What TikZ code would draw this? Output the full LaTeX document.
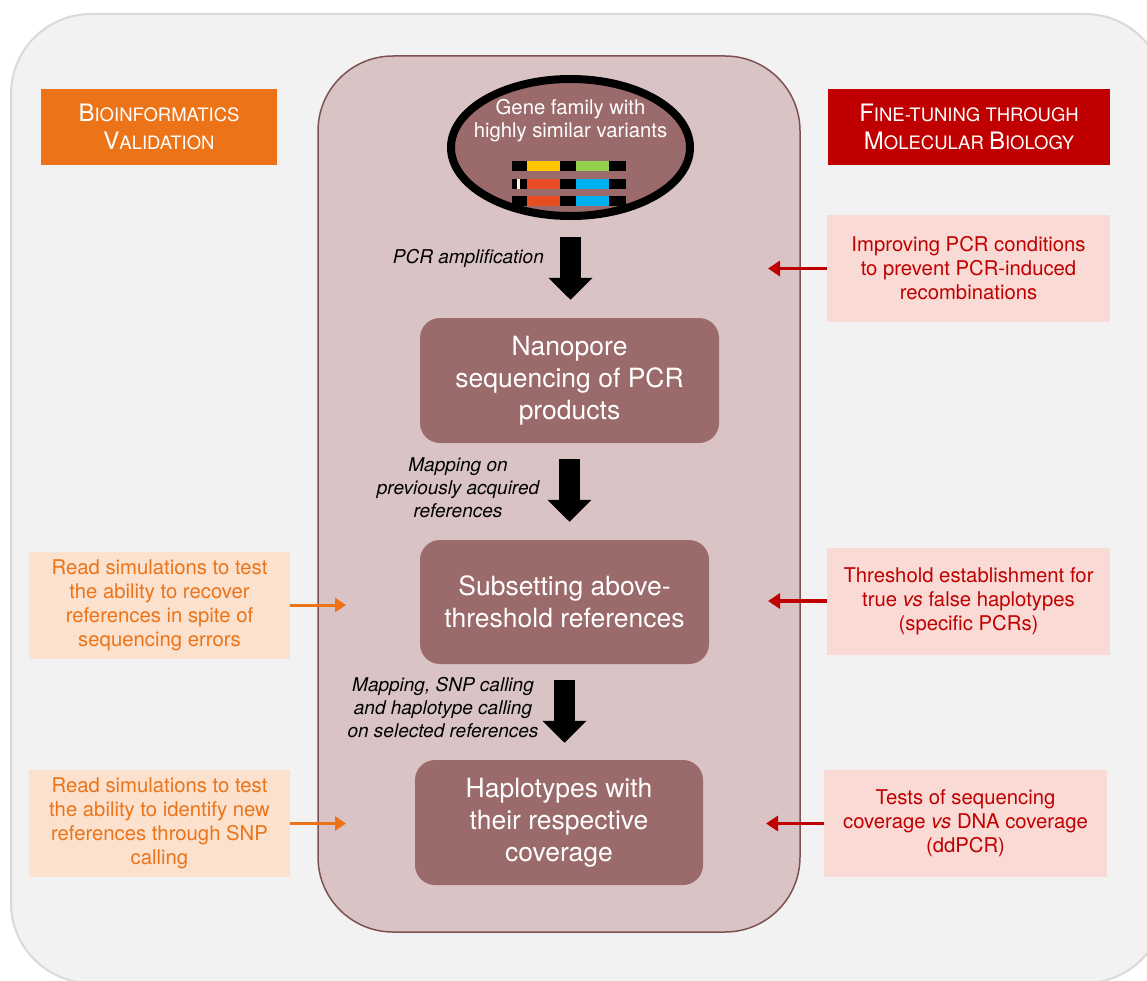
\documentclass[tikz,border=0pt]{standalone}
\usepackage{fontspec}
\setmainfont{TeX Gyre Heros}
\usetikzlibrary{arrows.meta,shapes.geometric}

\definecolor{outerFill}{HTML}{F2F2F2}
\definecolor{outerLine}{HTML}{D9D9D9}
\definecolor{columnFill}{HTML}{D9C3C4}
\definecolor{columnLine}{HTML}{7F5252}
\definecolor{stepFill}{HTML}{9B6A6A}
\definecolor{bioOrange}{HTML}{EC7317}
\definecolor{molRed}{HTML}{C00000}
\definecolor{peachFill}{HTML}{FBE1CE}
\definecolor{pinkFill}{HTML}{FADAD5}
\definecolor{barYellow}{HTML}{FFC800}
\definecolor{barGreen}{HTML}{92D050}
\definecolor{barRed}{HTML}{E84C22}
\definecolor{barBlue}{HTML}{00B0F0}
\definecolor{barCream}{HTML}{FFF2CC}

\newcommand\capsc[2]{{\fontsize{24}{28}\selectfont #1}{\fontsize{18.5}{28}\selectfont #2}}

\tikzset{
  stepbox/.style={fill=stepFill, text=white, rounded corners=20pt, align=center,
    font=\fontsize{26.5}{32}\selectfont, inner sep=0pt},
  headbox/.style={text=white, align=center, inner sep=0pt, minimum height=76pt,
    font=\fontsize{18.5}{28}\selectfont},
  molbox/.style={fill=pinkFill, text=molRed, align=center, inner sep=0pt,
    minimum width=283pt, minimum height=107pt, font=\fontsize{20.3}{24}\selectfont},
  biobox/.style={fill=peachFill, text=bioOrange, align=center, inner sep=0pt,
    minimum width=261pt, minimum height=107pt, font=\fontsize{20.3}{24}\selectfont},
  steplabel/.style={align=center, inner sep=0pt, font=\itshape\fontsize{19}{23}\selectfont},
  blockarr/.style={black, line width=21pt, -{Triangle[length=22pt,width=43pt]}},
  redarr/.style={molRed, line width=3.5pt, -{Triangle[length=12pt,width=15pt]}},
  orgarr/.style={bioOrange, line width=3pt, -{Triangle[length=11pt,width=14pt]}}
}

\begin{document}
\begin{tikzpicture}[x=1pt,y=-1pt]
  \useasboundingbox (0,0) rectangle (1147,981);
  \begin{scope}
    \clip (0,0) rectangle (1147,981);
    \draw[outerLine, fill=outerFill, line width=2pt, rounded corners=80pt]
      (11,14) rectangle (1165,983);
  \end{scope}
  \draw[columnLine, fill=columnFill, line width=1.5pt, rounded corners=75pt]
    (318,56) rectangle (800,932);

  % headers
  \node[headbox, fill=bioOrange, minimum width=236pt] (bioHead) at (159,127)
    {\capsc{B}{IOINFORMATICS}\\\capsc{V}{ALIDATION}};
  \node[headbox, fill=molRed, minimum width=282pt] (molHead) at (969,127)
    {\capsc{F}{INE-TUNING THROUGH}\\\capsc{M}{OLECULAR} \capsc{B}{IOLOGY}};

  % gene family
  \node[ellipse, draw=black, line width=8pt, fill=stepFill, minimum width=239pt,
    minimum height=137pt] (gene) at (570.5,147.5) {};
  \node[text=white, align=center, inner sep=0pt, font=\fontsize{20.3}{23}\selectfont]
    (geneText) at (570.5,121) {Gene family with\\highly similar variants};
  \foreach \yy/\ca/\cb in {166/barYellow/barGreen,184/barRed/barBlue,201/barRed/barBlue}
  {
    \fill[black] (512,\yy-5) rectangle (626,\yy+5);
    \fill[\ca] (527,\yy-5) rectangle (560,\yy+5);
    \fill[\cb] (576,\yy-5) rectangle (609,\yy+5);
  }
  \fill[barCream] (517,179) rectangle (520,189);

  % main steps
  \node[stepbox, minimum width=299pt, minimum height=125pt] (nanopore) at (569.5,380.5)
    {Nanopore\\sequencing of PCR\\products};
  \node[stepbox, minimum width=289pt, minimum height=124pt] (subset) at (564.5,602)
    {Subsetting above-\\threshold references};
  \node[stepbox, minimum width=288pt, minimum height=125pt] (haplo) at (559,822.5)
    {Haplotypes with\\their respective\\coverage};

  \draw[blockarr, shorten <=17pt, shorten >=18pt] (gene.south) -- (gene.south |- nanopore.north);
  \draw[blockarr, shorten <=16pt, shorten >=18pt] (nanopore.south) -- (nanopore.south |- subset.north);
  \draw[blockarr, shorten <=16pt, shorten >=17pt] (subset.south) -- (subset.south |- haplo.north);

  \node[steplabel, anchor=east] (pcrLab) at (544,258) {PCR amplification};
  \node[steplabel] (mapLab) at (458,488) {Mapping on\\previously acquired\\references};
  \node[steplabel] (snpLab) at (443,708) {Mapping, SNP calling\\and haplotype calling\\on selected references};

  % molecular biology side
  \node[molbox] (molA) at (968.5,268.5)
    {Improving PCR conditions\\to prevent PCR-induced\\recombinations};
  \node[molbox] (molB) at (968.5,601)
    {Threshold establishment for\\true \textit{vs} false haplotypes\\(specific PCRs)};
  \node[molbox] (molC) at (965.5,823.5)
    {Tests of sequencing\\coverage \textit{vs} DNA coverage\\(ddPCR)};
  \coordinate (molAend) at (768,268.5);
  \coordinate (molBend) at (768,601);
  \coordinate (molCend) at (766,823.5);
  \draw[redarr] (molA) -- (molAend);
  \draw[redarr] (molB) -- (molBend);
  \draw[redarr] (molC) -- (molCend);

  % bioinformatics side
  \node[biobox] (bioA) at (159.5,605)
    {Read simulations to test\\the ability to recover\\references in spite of\\sequencing errors};
  \node[biobox] (bioB) at (159.5,823.5)
    {Read simulations to test\\the ability to identify new\\references through SNP\\calling};
  \coordinate (bioAend) at (346,605);
  \coordinate (bioBend) at (346,823.5);
  \draw[orgarr] (bioA) -- (bioAend);
  \draw[orgarr] (bioB) -- (bioBend);
\end{tikzpicture}
\end{document}
